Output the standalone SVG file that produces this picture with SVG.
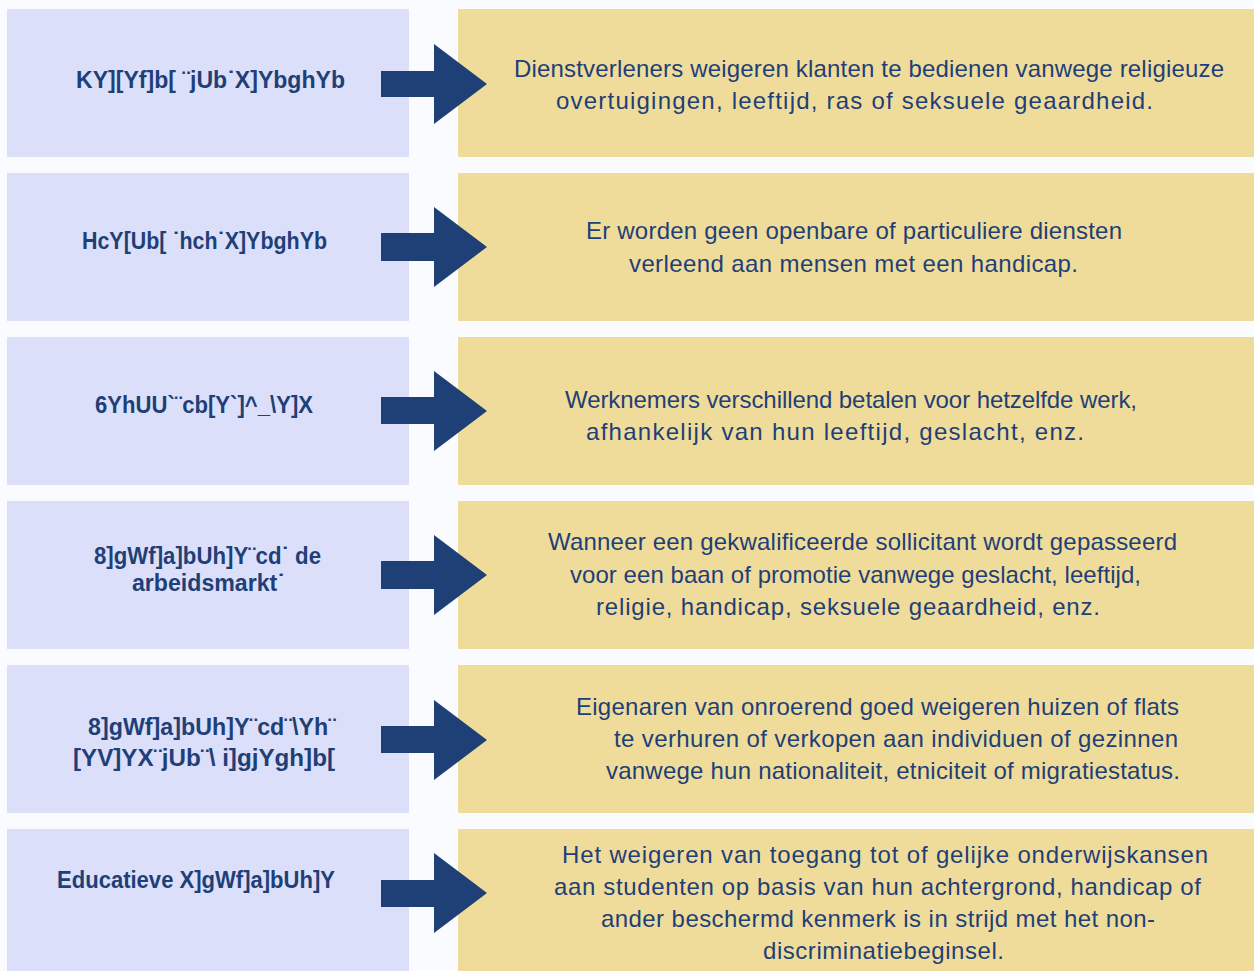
<svg xmlns="http://www.w3.org/2000/svg" width="1254" height="971" viewBox="0 0 1254 971">
<defs>
<style>
.bg{fill:#fafbfe}
.lb{fill:#dcdffa}
.rb{fill:#f0dc9a}
.arr{fill:#1f3f77}
.lt{font-family:"Liberation Sans",Arial,sans-serif;font-weight:bold;font-size:23px;fill:#1f3f77;text-anchor:middle}
.rt{font-family:"Liberation Sans",Arial,sans-serif;font-size:24px;fill:#1f3f77;text-anchor:middle}
</style>
</defs>
<rect class="bg" x="0" y="0" width="1254" height="971"/>
<g id="row1">
<rect class="lb" x="7" y="9" width="402" height="148"/>
<rect class="rb" x="458" y="9" width="796" height="148"/>
<text class="lt" x="210.5" y="88" textLength="269" lengthAdjust="spacingAndGlyphs">KY][Yf]b[ ¨jUb˙X]YbghYb</text>
<text class="rt" x="869" y="77" textLength="710" lengthAdjust="spacing">Dienstverleners weigeren klanten te bedienen vanwege religieuze</text>
<text class="rt" x="854.5" y="109" textLength="597" lengthAdjust="spacing">overtuigingen,  leeftijd,  ras  of  seksuele  geaardheid.</text>
</g>
<g id="row2">
<rect class="lb" x="7" y="173" width="402" height="148"/>
<rect class="rb" x="458" y="173" width="796" height="148"/>
<text class="lt" x="204.5" y="249" textLength="245" lengthAdjust="spacingAndGlyphs">HcY[Ub[ ˙hch˙X]YbghYb</text>
<text class="rt" x="854" y="239" textLength="536" lengthAdjust="spacing">Er worden geen openbare of particuliere diensten</text>
<text class="rt" x="853.5" y="272" textLength="449" lengthAdjust="spacing">verleend aan mensen met een  handicap.</text>
</g>
<g id="row3">
<rect class="lb" x="7" y="337" width="402" height="148"/>
<rect class="rb" x="458" y="337" width="796" height="148"/>
<text class="lt" x="204" y="413" textLength="218" lengthAdjust="spacingAndGlyphs">6YhUU`¨cb[Y`]^_\Y]X</text>
<text class="rt" x="851" y="408" textLength="572" lengthAdjust="spacing">Werknemers verschillend betalen voor hetzelfde werk,</text>
<text class="rt" x="835" y="440" textLength="498" lengthAdjust="spacing">afhankelijk van hun leeftijd, geslacht,  enz.</text>
</g>
<g id="row4">
<rect class="lb" x="7" y="501" width="402" height="148"/>
<rect class="rb" x="458" y="501" width="796" height="148"/>
<text class="lt" x="207.5" y="564" textLength="227" lengthAdjust="spacingAndGlyphs">8]gWf]a]bUh]Y¨cd˙ de</text>
<text class="lt" x="208.5" y="591" textLength="153" lengthAdjust="spacingAndGlyphs">arbeidsmarkt˙</text>
<text class="rt" x="862.5" y="550" textLength="629" lengthAdjust="spacing">Wanneer een gekwalificeerde sollicitant wordt gepasseerd</text>
<text class="rt" x="855.5" y="583" textLength="571" lengthAdjust="spacing">voor een baan of  promotie vanwege geslacht, leeftijd,</text>
<text class="rt" x="848" y="615" textLength="504" lengthAdjust="spacing">religie, handicap, seksuele geaardheid, enz.</text>
</g>
<g id="row5">
<rect class="lb" x="7" y="665" width="402" height="148"/>
<rect class="rb" x="458" y="665" width="796" height="148"/>
<text class="lt" x="212" y="735" textLength="248" lengthAdjust="spacingAndGlyphs">8]gWf]a]bUh]Y¨cd¨\Yh¨</text>
<text class="lt" x="204" y="766" textLength="262" lengthAdjust="spacingAndGlyphs">[YV]YX¨jUb¨\ i]gjYgh]b[</text>
<text class="rt" x="877.5" y="715" textLength="603" lengthAdjust="spacing">Eigenaren van onroerend goed weigeren huizen of flats</text>
<text class="rt" x="896" y="747" textLength="564" lengthAdjust="spacing">te verhuren of verkopen  aan individuen of gezinnen</text>
<text class="rt" x="893" y="779" textLength="574" lengthAdjust="spacing">vanwege hun nationaliteit, etniciteit of migratiestatus.</text>
</g>
<g id="row6">
<rect class="lb" x="7" y="829" width="402" height="142"/>
<rect class="rb" x="458" y="829" width="796" height="142"/>
<text class="lt" x="196" y="888" textLength="278" lengthAdjust="spacingAndGlyphs">Educatieve X]gWf]a]bUh]Y</text>
<text class="rt" x="885" y="863" textLength="646" lengthAdjust="spacing">Het weigeren  van  toegang  tot  of gelijke  onderwijskansen</text>
<text class="rt" x="877.5" y="895" textLength="647" lengthAdjust="spacing">aan  studenten  op  basis  van hun achtergrond, handicap of</text>
<text class="rt" x="878" y="927" textLength="554" lengthAdjust="spacing">ander  beschermd  kenmerk  is  in  strijd  met  het  non-</text>
<text class="rt" x="883.5" y="959" textLength="241" lengthAdjust="spacing">discriminatiebeginsel.</text>
</g>
<g id="connectors">
<polygon class="arr" points="381,71 434,71 434,44 487,84 434,124 434,97 381,97"/>
<polygon class="arr" points="381,233 434,233 434,207 487,247 434,287 434,261 381,261"/>
<polygon class="arr" points="381,397 434,397 434,371 487,411 434,451 434,424 381,424"/>
<polygon class="arr" points="381,561 434,561 434,535 487,575 434,615 434,589 381,589"/>
<polygon class="arr" points="381,726 434,726 434,700 487,740 434,780 434,753 381,753"/>
<polygon class="arr" points="381,880 434,880 434,853 487,893 434,933 434,907 381,907"/>
</g>
</svg>
